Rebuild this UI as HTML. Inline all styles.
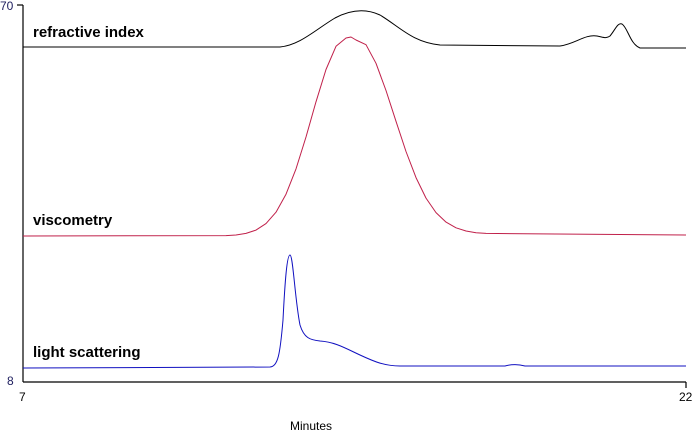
<!DOCTYPE html>
<html><head><style>
body{margin:0;background:#fff}
svg{display:block}
.l{font-family:"Liberation Sans",Arial,sans-serif;font-weight:bold;font-size:15px;fill:#000}
.t{font-family:"Liberation Sans",Arial,sans-serif;font-size:12px;fill:#000}
</style></head><body>
<svg width="694" height="433" viewBox="0 0 694 433" xmlns="http://www.w3.org/2000/svg">
<rect width="694" height="433" fill="#fff"/>
<g stroke="#000" stroke-width="1.2" fill="none">
<line x1="23" y1="5" x2="23" y2="382"/>
<line x1="23" y1="382" x2="686" y2="382"/>
<line x1="17" y1="5" x2="23" y2="5"/>
<line x1="686" y1="382" x2="686" y2="388"/>
</g>
<text x="0" y="10" class="t" style="fill:#202060">70</text>
<text x="7" y="385" class="t" style="fill:#202060">8</text>
<text x="19" y="401" class="t">7</text>
<text x="679" y="401" class="t">22</text>
<text x="290" y="430" class="t">Minutes</text>

<path fill="none" stroke="#000" stroke-width="1" d="M23,47 L280,47 C300,45 315,30 335,18 C350,10 365,8 380,15 C400,27 412,42 440,45 L560,46 C575,44 585,34 597,36 C603,37 606,39 610,36 C615,30 618,22 622,24 C628,28 630,44 640,48 L686,48"/>
<text x="33" y="37" class="l">refractive index</text>

<polyline fill="none" stroke="#c0204a" stroke-width="1" stroke-linejoin="round" points="23,236 226,235.6 236,235 246,233.4 256,230.1 266,223.6 276,212.2 286,194.2 296,168.9 306,137 316,101.8 326,69.5 336,46.3 346,38 351,37 356,40 366,44.7 376,63.3 386,90.5 396,121.3 406,151.5 416,177.6 426,198.1 436,212.6 446,222.1 456,227.8 466,231 476,232.7 486,233.4 686,235"/>
<text x="33" y="225" class="l">viscometry</text>

<path fill="none" stroke="#1010c0" stroke-width="1" d="M23,368 L270,367 C278,366 280,355 283,320 C285,280 287,255 290,255 C293,255 295,300 300,325 C304,338 310,340 320,341 C335,342 345,348 360,355 C375,362 385,366 400,366 L505,366 C512,364 518,364 525,366 L686,366"/>
<text x="33" y="357" class="l">light scattering</text>
</svg>
</body></html>
